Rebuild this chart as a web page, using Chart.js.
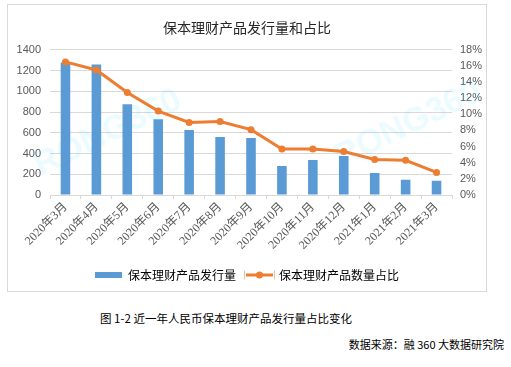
<!DOCTYPE html>
<html>
<head>
<meta charset="utf-8">
<script src="https://cdn.jsdelivr.net/npm/chart.js@4"></script>
<style>
  body { margin: 0; background: #fff; width: 511px; height: 367px; position: relative; overflow: hidden; font-family: "Noto Sans CJK SC", sans-serif; }
  #box { position: absolute; left: 7px; top: 4px; width: 478px; height: 286px; border: 1px solid #d9d9d9; }
  #caption { position: absolute; left: 100px; top: 310px; font-size: 11.5px; color: #000; white-space: nowrap; }
  #source { position: absolute; right: 7px; top: 336px; font-size: 11px; color: #000; white-space: nowrap; }
</style>
</head>
<body>
<div id="box"><canvas id="chart" width="478" height="286"></canvas></div>
<div id="caption">图 1-2 近一年人民币保本理财产品发行量占比变化</div>
<div id="source">数据来源：融 360 大数据研究院</div>
<script>

// Data
const months = ['2020年3月', '2020年4月', '2020年5月', '2020年6月', '2020年7月', '2020年8月', '2020年9月', '2020年10月', '2020年11月', '2020年12月', '2021年1月', '2021年2月', '2021年3月'];
const issueCount = [1278, 1258, 875, 731, 626, 559, 550, 280, 337, 376, 213, 146, 137];
const issueShare = [16.5, 15.5, 12.7, 10.4, 9.0, 9.1, 8.1, 5.7, 5.7, 5.4, 4.4, 4.3, 2.8];
const countTicks = [0, 200, 400, 600, 800, 1000, 1200, 1400];
const shareTicks = [0, 2, 4, 6, 8, 10, 12, 14, 16, 18];

// Colors
const blue = '#5b9bd5';
const orange = '#ed7d31';
const gridColor = '#d9d9d9';
const tickFont = { family: "'Liberation Serif', 'Noto Sans CJK SC', serif", size: 12 };
const numFont = { family: "'Liberation Sans', sans-serif", size: 11 };

// Watermark
const watermark = {
    id: 'watermark',
    beforeDatasetsDraw(chart) {
        const ctx = chart.ctx;
        ctx.save();
        ctx.font = 'bold 34px "Liberation Sans", sans-serif';
        ctx.fillStyle = 'rgba(0, 200, 255, 0.08)';
        ctx.textAlign = 'center';
        ctx.textBaseline = 'middle';
        [[100, 128], [400, 120]].forEach(function (p) {
            ctx.save();
            ctx.translate(p[0], p[1]);
            ctx.rotate(-0.45);
            ctx.fillText('RONG360', 0, 0);
            ctx.restore();
        });
        ctx.restore();
    }
};

// Legend line marker
const legendLine = {
    id: 'legendLine',
    afterDraw(chart) {
        const legend = chart.legend;
        if (!legend || !legend.legendHitBoxes[1]) { return; }
        const box = legend.legendHitBoxes[1];
        const ctx = chart.ctx;
        const w = 27;
        const cy = box.top + box.height / 2;
        ctx.save();
        ctx.fillStyle = '#fff';
        ctx.fillRect(box.left - 1, box.top - 1, w + 2, box.height + 2);
        ctx.strokeStyle = orange;
        ctx.lineWidth = 3;
        ctx.beginPath();
        ctx.moveTo(box.left, cy);
        ctx.lineTo(box.left + w, cy);
        ctx.stroke();
        ctx.fillStyle = orange;
        ctx.beginPath();
        ctx.arc(box.left + w / 2, cy, 3.5, 0, Math.PI * 2);
        ctx.fill();
        ctx.restore();
    }
};

// Create Chart
const ctx = document.getElementById('chart').getContext('2d');
new Chart(ctx, {
    type: 'bar',
    data: {
        labels: months,
        datasets: [
            {
                type: 'bar',
                label: '保本理财产品发行量',
                data: issueCount,
                backgroundColor: blue,
                yAxisID: 'y',
                order: 2,
                categoryPercentage: 1,
                barPercentage: 0.31
            },
            {
                type: 'line',
                label: '保本理财产品数量占比',
                data: issueShare,
                borderColor: orange,
                backgroundColor: orange,
                borderWidth: 3,
                pointRadius: 3.5,
                pointBackgroundColor: orange,
                pointBorderWidth: 0,
                yAxisID: 'y1',
                order: 1
            }
        ]
    },
    options: {
        responsive: false,
        animation: false,
        layout: { padding: { left: 0, right: 0, top: 0, bottom: 0 } },
        plugins: {
            title: {
                display: true,
                text: '保本理财产品发行量和占比',
                color: '#262626',
                font: { family: "'Noto Sans CJK SC', sans-serif", size: 14, weight: 'normal' },
                padding: { top: 14, bottom: 14 }
            },
            legend: {
                position: 'bottom',
                labels: {
                    boxWidth: 27,
                    boxHeight: 6,
                    padding: 10,
                    color: '#000',
                    font: { family: "'Noto Sans CJK SC', sans-serif", size: 12 },
                    sort: function (a, b) { return a.datasetIndex - b.datasetIndex; }
                }
            },
            tooltip: { enabled: false }
        },
        scales: {
            x: {
                offset: true,
                grid: { offset: true, drawOnChartArea: false, drawTicks: true, tickLength: 4, color: gridColor },
                border: { color: gridColor },
                ticks: { minRotation: 45, maxRotation: 45, color: '#595959', font: tickFont, padding: 1, autoSkip: false },
                afterFit: function (scale) { scale.height = 64; }
            },
            y: {
                position: 'left',
                min: 0,
                max: 1400,
                afterBuildTicks: function (scale) { scale.ticks = countTicks.map(function (v) { return { value: v }; }); },
                grid: { color: gridColor, drawTicks: false },
                border: { display: false },
                ticks: { color: '#595959', font: numFont, padding: 9, autoSkip: false, callback: function (v) { return String(v); } },
                afterFit: function (scale) { scale.width = 42; }
            },
            y1: {
                position: 'right',
                min: 0,
                max: 18,
                afterBuildTicks: function (scale) { scale.ticks = shareTicks.map(function (v) { return { value: v }; }); },
                grid: { drawOnChartArea: false, drawTicks: false },
                border: { display: false },
                ticks: { color: '#595959', font: numFont, padding: 8, autoSkip: false, callback: function (v) { return v + '%'; } },
                afterFit: function (scale) { scale.width = 34; }
            }
        }
    },
    plugins: [watermark, legendLine]
});

</script>
</body>
</html>
